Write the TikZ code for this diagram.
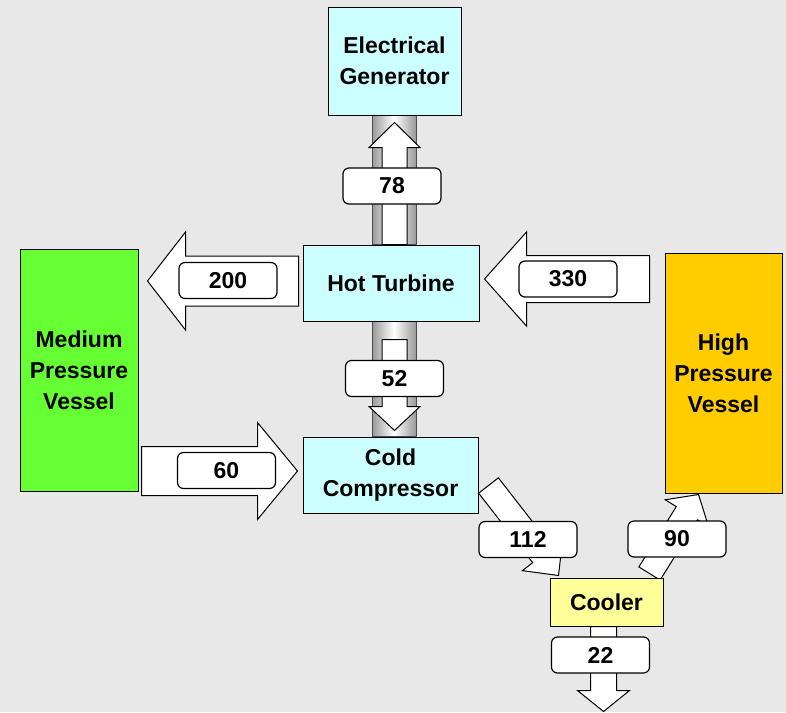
\documentclass[tikz,border=0pt]{standalone}
\usepackage{fontspec}
\setmainfont{Liberation Sans}
\usetikzlibrary{calc,backgrounds}

\definecolor{bggray}{RGB}{232,232,232}
\definecolor{machcyan}{RGB}{204,255,255}
\definecolor{medgreen}{RGB}{102,255,51}
\definecolor{highorange}{RGB}{255,204,0}
\definecolor{coolyellow}{RGB}{255,255,153}

\tikzset{
  unit/.style={draw, line width=0.5pt, align=center, inner sep=2pt,
    font=\fontsize{11.5}{15.5}\selectfont\bfseries},
  flowlabel/.style={draw, fill=white, line width=0.6pt, rounded corners=3pt,
    minimum width=49pt, minimum height=18pt, inner sep=0pt,
    font=\fontsize{11.5}{14}\selectfont\bfseries},
  flowarrow/.style={draw, fill=white, line width=0.5pt, line join=miter},
  shaft/.style={draw=gray!60!black, line width=0.5pt, left color=gray!80,
    right color=gray!80, middle color=white}
}

% block arrow: tail, tip, body half width, head half width, head length
\newcommand{\blockarrow}[5]{%
  \coordinate (hb) at ($(#2)!#5!(#1)$);
  \draw[flowarrow] ($(#1)!#3!90:(#2)$) -- ($(hb)!#3!-90:(#1)$)
    -- ($(hb)!#4!-90:(#1)$) -- (#2) -- ($(hb)!#4!90:(#1)$)
    -- ($(hb)!#3!90:(#1)$) -- ($(#1)!#3!-90:(#2)$) -- cycle;
}

\begin{document}
\begin{tikzpicture}[x=0.5pt,y=-0.5pt]
    \useasboundingbox (0,0) rectangle (786,712);

    % machines and vessels
    \node[unit, fill=machcyan, minimum width=66.5pt, minimum height=54pt] (gen) at (394.5,61) {Electrical\\Generator};
    \node[unit, fill=machcyan, minimum width=88pt, minimum height=38pt] (turb) at (391,283) {Hot Turbine};
    \node[unit, fill=machcyan, minimum width=87.5pt, minimum height=38pt] (comp) at (390.5,475) {Cold\\Compressor};
    \node[unit, fill=medgreen, minimum width=59pt, minimum height=121pt] (medium) at (79,370) {Medium\\Pressure\\Vessel};
    \node[unit, fill=highorange, minimum width=58.5pt, minimum height=120pt] (high) at (723.5,373) {High\\Pressure\\Vessel};
    \node[unit, fill=coolyellow, minimum width=56.5pt, minimum height=24pt] (cooler) at (606.5,602) {Cooler};

    % flow values
    \node[flowlabel] (f78) at (392,186) {78};
    \node[flowlabel] (f52) at (394.5,378.5) {52};
    \node[flowlabel] (f200) at (228,280.5) {200};
    \node[flowlabel] (f330) at (568,279) {330};
    \node[flowlabel] (f60) at (226.5,470.5) {60};
    \node[flowlabel] (f112) at (528,539.5) {112};
    \node[flowlabel] (f90) at (677,539) {90};
    \node[flowlabel] (f22) at (600.5,655) {22};

    % arrow ends
    \coordinate (a78) at (gen.south |- turb.north);
    \coordinate (b78) at ($(gen.south)+(0,7)$);
    \coordinate (a52) at ($(gen.south |- turb.south)+(0,18)$);
    \coordinate (b52) at ($(gen.south |- comp.north)+(0,-6)$);
    \coordinate (a200) at ($(turb.west)+(-4,-2)$);
    \coordinate (b200) at ($(medium.east |- a200)+(9,0)$);
    \coordinate (a330) at ($(high.west |- turb.west)+(-15,-4)$);
    \coordinate (b330) at ($(turb.east)+(5,-4)$);
    \coordinate (a60) at ($(medium.east |- comp.west)+(3,-4)$);
    \coordinate (b60) at ($(comp.west)+(-5,-4)$);
    \coordinate (a112) at ($(comp.south east)+(10,-28)$);
    \coordinate (b112) at ($(cooler.north west)+(9,-2)$);
    \coordinate (a90) at ($(cooler.north east)+(-14,-4)$);
    \coordinate (b90) at ($(high.south west)+(34,1)$);
    \coordinate (a22) at ($(cooler.south)+(-3,0)$);
    \coordinate (b22) at ($(cooler.south)+(-3,85)$);

    \begin{scope}[on background layer]
        \fill[bggray] (0,0) rectangle (786,712);
        % shafts
        \shadedraw[shaft] ($(gen.south)+(-22.5,0)$) rectangle ($(gen.south |- turb.north)+(21.5,0)$);
        \shadedraw[shaft] ($(gen.south |- turb.south)+(-22.5,0)$) rectangle ($(gen.south |- comp.north)+(21.5,0)$);
        % flows
        \blockarrow{a78}{b78}{6.25pt}{12.75pt}{12.5pt}
        \blockarrow{a52}{b52}{6.25pt}{12.75pt}{12pt}
        \blockarrow{a200}{b200}{12.5pt}{24.5pt}{19pt}
        \blockarrow{a330}{b330}{11.75pt}{23.5pt}{21pt}
        \blockarrow{a60}{b60}{12.25pt}{24.25pt}{20pt}
        \blockarrow{a112}{b112}{6.25pt}{12.75pt}{13pt}
        \blockarrow{a90}{b90}{6.25pt}{12.75pt}{11pt}
        \blockarrow{a22}{b22}{6.5pt}{13pt}{10.5pt}
    \end{scope}
\end{tikzpicture}
\end{document}
